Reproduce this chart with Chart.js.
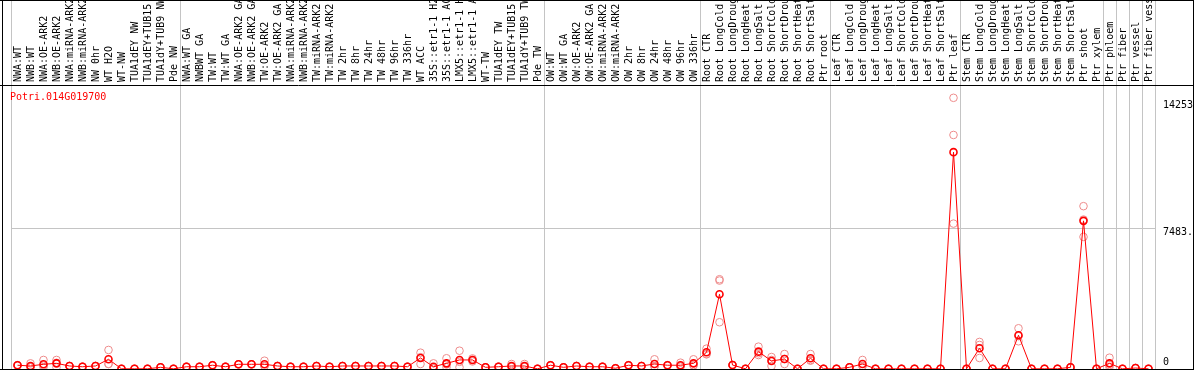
<!DOCTYPE html>
<html>
<head>
<meta charset="utf-8">
<script src="https://cdn.jsdelivr.net/npm/chart.js@4.4.0/dist/chart.umd.min.js"></script>
<style>
  html, body { margin: 0; padding: 0; background: #fff; overflow: hidden; }
</style>
</head>
<body>
<canvas id="efp" width="1194" height="370"></canvas>
<script>
const geneName = 'Potri.014G019700';

const samples = [
  'NWA:WT', 'NWB:WT', 'NWA:OE-ARK2', 'NWB:OE-ARK2', 'NWA:miRNA-ARK2', 'NWB:miRNA-ARK2', 'NW 0hr', 'WT H2O', 'WT-NW',
  'TUA1dEY NW', 'TUA1dEY+TUB15 NW', 'TUA1dY+TUB9 NW', 'Pde NW',
  'NWA:WT GA', 'NWBWT GA', 'TW:WT', 'TW:WT GA', 'NWA:OE-ARK2 GA', 'NWB:OE-ARK2 GA', 'TW:OE-ARK2', 'TW:OE-ARK2 GA',
  'NWA:miRNA-ARK2 GA', 'NWB:miRNA-ARK2 GA', 'TW:miRNA-ARK2', 'TW:miRNA-ARK2 GA', 'TW 2hr', 'TW 8hr', 'TW 24hr', 'TW 48hr',
  'TW 96hr', 'TW 336hr', 'WT ACC', '35S::etr1-1 H2O', '35S::etr1-1 ACC', 'LMX5::etr1-1 H2O', 'LMX5::etr1-1 ACC', 'WT-TW',
  'TUA1dEY TW', 'TUA1dEY+TUB15 TW', 'TUA1dY+TUB9 TW', 'Pde TW',
  'OW:WT', 'OW:WT GA', 'OW:OE-ARK2', 'OW:OE-ARK2 GA', 'OW:miRNA-ARK2', 'OW:miRNA-ARK2 GA', 'OW 2hr', 'OW 8hr', 'OW 24hr',
  'OW 48hr', 'OW 96hr', 'OW 336hr',
  'Root CTR', 'Root LongCold', 'Root LongDrought', 'Root LongHeat', 'Root LongSalt', 'Root ShortCold', 'Root ShortDrought',
  'Root ShortHeat', 'Root ShortSalt', 'Ptr root',
  'Leaf CTR', 'Leaf LongCold', 'Leaf LongDrought', 'Leaf LongHeat', 'Leaf LongSalt', 'Leaf ShortCold', 'Leaf ShortDrought',
  'Leaf ShortHeat', 'Leaf ShortSalt', 'Ptr leaf',
  'Stem CTR', 'Stem LongCold', 'Stem LongDrought', 'Stem LongHeat', 'Stem LongSalt', 'Stem ShortCold', 'Stem ShortDrought',
  'Stem ShortHeat', 'Stem ShortSalt', 'Ptr shoot', 'Ptr xylem',
  'Ptr phloem', 'Ptr fiber', 'Ptr vessel', 'Ptr fiber vessel'
];

// index of the first sample of each block (last entry = end)
const groupStarts = [0, 13, 41, 53, 63, 73, 84, 85, 86, 87, 88];

const meanValues = [
  200, 160, 250, 300, 160, 120, 160, 515, 10, 10, 10, 90, 10,
  120, 120, 200, 120, 250, 250, 250, 160, 120, 120, 160, 120, 160, 160, 160, 160,
  160, 120, 585, 120, 300, 480, 480, 90, 120, 160, 160, 10,
  200, 90, 160, 120, 120, 40, 200, 160, 265, 200, 200, 300,
  885, 3965, 210, 10, 920, 425, 530, 10, 570, 10,
  10, 90, 265, 10, 10, 10, 10, 10, 10, 11500,
  10, 1100, 10, 10, 1790, 10, 10, 10, 90, 7855, 10,
  300, 10, 50, 10
];

const rep1 = [
  200, 300, 480, 480, 160, 120, 160, 1010, 10, 10, 10, 90, 10,
  120, 120, 200, 120, 250, 250, 440, 160, 120, 120, 160, 120, 160, 160, 160, 160,
  160, 120, 865, 300, 570, 970, 560, 90, 120, 265, 265, 10,
  200, 90, 160, 120, 120, 40, 200, 160, 515, 200, 335, 515,
  1080, 4760, 210, 10, 1185, 635, 795, 10, 795, 10,
  10, 90, 480, 10, 10, 10, 10, 10, 10, 14380,
  10, 1435, 10, 10, 2160, 10, 10, 10, 90, 8635, 10,
  600, 10, 50, 10
];

const rep2 = [
  200, 90, 90, 90, 160, 120, 160, 270, 10, 10, 10, 90, 10,
  120, 120, 200, 120, 250, 250, 160, 160, 120, 120, 160, 120, 160, 160, 160, 160,
  160, 120, 265, 30, 90, 90, 400, 90, 120, 110, 110, 10,
  200, 90, 160, 120, 120, 40, 200, 160, 140, 200, 135, 190,
  800, 4690, 210, 10, 835, 160, 265, 10, 440, 10,
  10, 90, 160, 10, 10, 10, 10, 10, 10, 12410,
  10, 1275, 10, 10, 1470, 10, 10, 10, 90, 7005, 10,
  200, 10, 50, 10
];

const rep3 = [
  200, 90, 180, 330, 160, 120, 160, 265, 10, 10, 10, 90, 10,
  120, 120, 200, 120, 250, 250, 150, 160, 120, 120, 160, 120, 160, 160, 160, 160,
  160, 120, 625, 30, 240, 380, 480, 90, 120, 105, 105, 10,
  200, 90, 160, 120, 120, 40, 200, 160, 140, 200, 130, 195,
  775, 2480, 210, 10, 740, 480, 530, 10, 475, 10,
  10, 90, 155, 10, 10, 10, 10, 10, 10, 7710,
  10, 585, 10, 10, 1740, 10, 10, 10, 90, 7925, 10,
  100, 10, 50, 10
];

const yTickValues = [0, 7483, 14253];
const yTickLabels = ['0', '7483.', '14253'];
const gridValue = 7483;

const monoFont = '"DejaVu Sans Mono", "Liberation Mono", monospace';

// frame, block separators, title and y labels
const efpFrame = {
  id: 'efpFrame',
  beforeDatasetsDraw(chart) {
    const { ctx, chartArea: a, scales: { x, y } } = chart;
    const step = x.getPixelForValue(1) - x.getPixelForValue(0);
    ctx.save();
    ctx.strokeStyle = '#c4c4c4';
    ctx.lineWidth = 1;
    groupStarts.forEach(i => {
      const px = Math.round(x.getPixelForValue(0) + (i - 0.5) * step) + 0.5;
      ctx.beginPath();
      ctx.moveTo(px, 0);
      ctx.lineTo(px, a.bottom);
      ctx.stroke();
    });
    const gy = Math.round(y.getPixelForValue(gridValue)) + 0.5;
    ctx.beginPath();
    ctx.moveTo(a.left, gy);
    ctx.lineTo(a.right, gy);
    ctx.stroke();
    ctx.restore();
  },
  afterDraw(chart) {
    const { ctx, chartArea: a, scales: { y }, width, height } = chart;
    ctx.save();
    ctx.strokeStyle = '#000';
    ctx.lineWidth = 1;
    ctx.beginPath();
    ctx.moveTo(0, 0.5); ctx.lineTo(width, 0.5);
    ctx.moveTo(0, a.top + 0.5); ctx.lineTo(width, a.top + 0.5);
    ctx.moveTo(0, a.bottom + 0.5); ctx.lineTo(width, a.bottom + 0.5);
    ctx.moveTo(2.5, 0); ctx.lineTo(2.5, height);
    ctx.moveTo(width - 0.5, 0); ctx.lineTo(width - 0.5, height);
    ctx.stroke();

    ctx.font = '10px ' + monoFont;
    ctx.textBaseline = 'middle';
    ctx.textAlign = 'left';
    ctx.fillStyle = '#ff0000';
    ctx.fillText(geneName, 10, a.top + 12);

    ctx.fillStyle = '#000';
    yTickValues.forEach((v, i) => {
      const py = Math.min(y.getPixelForValue(v) + 5, a.bottom - 7);
      ctx.fillText(yTickLabels[i], a.right + 8, py);
    });
    ctx.restore();
  }
};

new Chart(document.getElementById('efp'), {
  type: 'line',
  data: {
    labels: samples,
    datasets: [
      {
        label: 'mean',
        data: meanValues,
        order: 0,
        borderColor: '#ff0000',
        borderWidth: 1,
        pointRadius: 3.5,
        pointBorderWidth: 1.6,
        pointBorderColor: '#ff0000',
        pointBackgroundColor: 'rgba(0,0,0,0)',
        tension: 0
      },
      ...[rep1, rep2, rep3].map((r, i) => ({
        label: 'rep' + (i + 1),
        data: r,
        order: 1,
        showLine: false,
        pointRadius: 3.8,
        pointBorderWidth: 1,
        pointBorderColor: '#ee8c8c',
        pointBackgroundColor: 'rgba(0,0,0,0)'
      }))
    ]
  },
  options: {
    responsive: false,
    animation: false,
    devicePixelRatio: 1,
    layout: { autoPadding: false, padding: { left: 11, right: 0, top: 0, bottom: 1 } },
    plugins: { legend: { display: false }, tooltip: { enabled: false } },
    scales: {
      x: {
        type: 'category',
        position: 'top',
        offset: true,
        grid: { display: false, drawTicks: false },
        border: { display: false },
        ticks: {
          autoSkip: false,
          minRotation: 90,
          maxRotation: 90,
          padding: 3,
          labelOffset: 13,
          color: '#000',
          font: { family: monoFont, size: 10 }
        },
        afterFit(scale) {
          scale.height = 85;
          scale.paddingLeft = 0;
          scale.paddingRight = 0;
        }
      },
      y: {
        position: 'right',
        min: 0,
        max: 15060,
        grid: { display: false, drawTicks: false },
        border: { display: false },
        ticks: { display: false },
        afterFit(scale) {
          scale.width = 39;
          scale.paddingTop = 0;
          scale.paddingBottom = 0;
        }
      }
    }
  },
  plugins: [efpFrame]
});
</script>
</body>
</html>
